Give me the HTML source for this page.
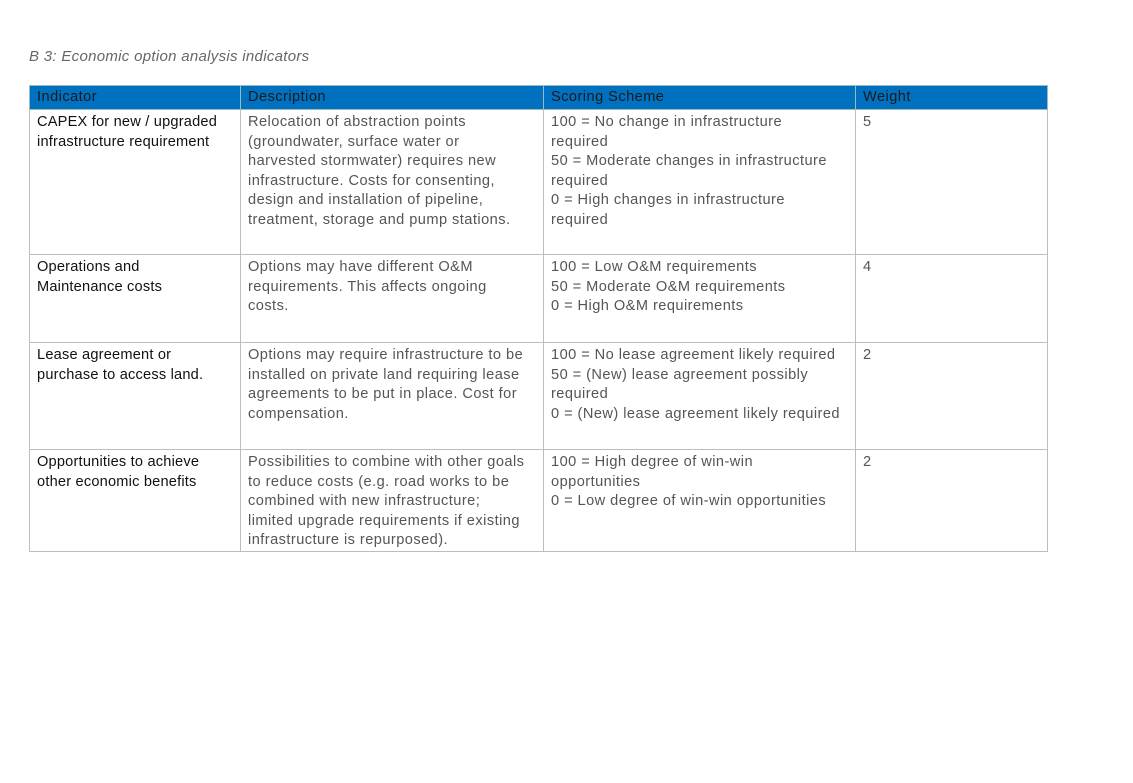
<!DOCTYPE html>
<html><head><style>
body{margin:0;width:1133px;height:783px;background:#fff;font-family:"Liberation Sans",sans-serif;position:relative;overflow:hidden}
.cap{position:absolute;left:29px;top:48px;font-size:15px;font-style:italic;color:#666;letter-spacing:0.3px}
table{position:absolute;left:29px;top:85px;border-collapse:collapse;table-layout:fixed;width:1018px}
td{border:1px solid #bdbdbd;vertical-align:top;padding:3px 7px 0 7px;font-size:14.6px;line-height:19.6px;color:#555;white-space:nowrap;letter-spacing:0.45px;overflow:hidden}
tr.h td{background:#0070c0;color:#1a1a1a;height:21px;padding-top:2px;border-color:#9bb}
td.c1{color:#111;letter-spacing:0.2px}
</style></head><body>
<div class="cap">B 3: Economic option analysis indicators</div>
<table>
<col style="width:211px"><col style="width:303px"><col style="width:312px"><col style="width:192px">
<tr class="h"><td>Indicator</td><td>Description</td><td>Scoring Scheme</td><td>Weight</td></tr>
<tr style="height:145px"><td class="c1">CAPEX for new / upgraded<br>infrastructure requirement</td><td>Relocation of abstraction points<br>(groundwater, surface water or<br>harvested stormwater) requires new<br>infrastructure. Costs for consenting,<br>design and installation of pipeline,<br>treatment, storage and pump stations.</td><td>100 = No change in infrastructure<br>required<br>50 = Moderate changes in infrastructure<br>required<br>0 = High changes in infrastructure<br>required</td><td>5</td></tr>
<tr style="height:88px"><td class="c1">Operations and<br>Maintenance costs</td><td>Options may have different O&amp;M<br>requirements. This affects ongoing<br>costs.</td><td>100 = Low O&amp;M requirements<br>50 = Moderate O&amp;M requirements<br>0 = High O&amp;M requirements</td><td>4</td></tr>
<tr style="height:107px"><td class="c1">Lease agreement or<br>purchase to access land.</td><td>Options may require infrastructure to be<br>installed on private land requiring lease<br>agreements to be put in place. Cost for<br>compensation.</td><td>100 = No lease agreement likely required<br>50 = (New) lease agreement possibly<br>required<br>0 = (New) lease agreement likely required</td><td>2</td></tr>
<tr style="height:100px"><td class="c1">Opportunities to achieve<br>other economic benefits</td><td>Possibilities to combine with other goals<br>to reduce costs (e.g. road works to be<br>combined with new infrastructure;<br>limited upgrade requirements if existing<br>infrastructure is repurposed).</td><td>100 = High degree of win-win<br>opportunities<br>0 = Low degree of win-win opportunities</td><td>2</td></tr>
</table>
</body></html>
